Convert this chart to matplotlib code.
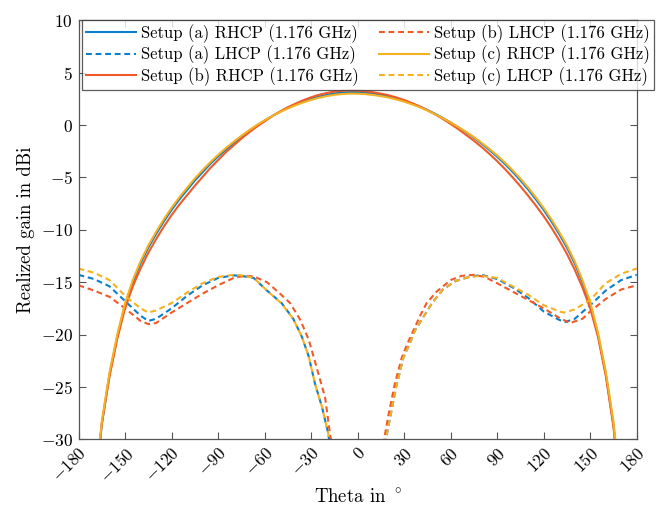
#!/usr/bin/env python3
"""Realized gain cuts (RHCP / LHCP) for three setups at 1.176 GHz."""

import matplotlib

matplotlib.use("Agg")
import matplotlib.pyplot as plt

# RHCP cuts, theta in degrees
RHCP_THETA = [
    -170, -165, -160, -155, -150, -145, -140, -135, -130, -125, -120, -115, -110, -105,
    -100, -95, -90, -85, -80, -75, -70, -65, -60, -55, -50, -45, -40, -35, -30, -25, -20,
    -15, -10, -5, 0, 5, 10, 15, 20, 25, 30, 35, 40, 45, 50, 55, 60, 65, 70, 75, 80, 85,
    90, 95, 100, 105, 110, 115, 120, 125, 130, 135, 140, 145, 150, 155, 160, 165, 170,
]
RHCP_A = [
    -36.0, -28.6, -23.8, -20.2, -17.2, -15.0, -13.2, -11.7, -10.4, -9.2, -8.1, -7.1, -6.2, -5.3,
    -4.5, -3.7, -3.0, -2.35, -1.72, -1.12, -0.57, -0.05, 0.42, 0.86, 1.27, 1.63, 1.96, 2.25, 2.5,
    2.71, 2.88, 3.01, 3.1, 3.14, 3.13, 3.08, 3.0, 2.88, 2.73, 2.54, 2.32, 2.06, 1.76, 1.43, 1.07,
    0.67, 0.24, -0.22, -0.7, -1.22, -1.78, -2.38, -3.02, -3.72, -4.47, -5.28, -6.15, -7.1, -8.1,
    -9.2, -10.4, -11.7, -13.2, -15.0, -17.1, -20.0, -23.7, -28.6, -36.0,
]
RHCP_B = [
    -36.0, -28.5, -24.0, -20.4, -17.5, -15.4, -13.7, -12.2, -10.9, -9.7, -8.6, -7.6, -6.7, -5.8,
    -4.95, -4.1, -3.35, -2.6, -1.95, -1.3, -0.7, -0.15, 0.35, 0.85, 1.3, 1.7, 2.05, 2.37, 2.65,
    2.88, 3.06, 3.19, 3.27, 3.3, 3.28, 3.22, 3.13, 3.0, 2.84, 2.63, 2.39, 2.1, 1.78, 1.42, 1.02,
    0.58, 0.1, -0.4, -0.95, -1.5, -2.1, -2.75, -3.45, -4.2, -5.0, -5.85, -6.75, -7.7, -8.7,
    -9.8, -11.0, -12.3, -13.8, -15.5, -17.5, -20.2, -23.9, -28.8, -36.0,
]
RHCP_C = [
    -35.5, -28.3, -23.6, -20.0, -17.0, -14.8, -13.0, -11.5, -10.2, -9.0, -7.9, -6.9, -6.0, -5.1,
    -4.3, -3.55, -2.85, -2.2, -1.6, -1.03, -0.5, 0.0, 0.45, 0.86, 1.24, 1.58, 1.89, 2.16, 2.4,
    2.6, 2.76, 2.88, 2.96, 3.0, 2.99, 2.95, 2.87, 2.76, 2.62, 2.44, 2.23, 1.98, 1.7, 1.38, 1.03,
    0.65, 0.24, -0.2, -0.66, -1.16, -1.7, -2.28, -2.9, -3.58, -4.32, -5.12, -5.98, -6.92, -7.92,
    -9.0, -10.2, -11.5, -13.0, -14.8, -16.9, -19.8, -23.5, -28.3, -35.5,
]

# LHCP cuts, split in a negative and a positive theta branch
LHCP_L_THETA_A = [-180, -170, -160, -150, -140, -135, -130, -120, -110, -100, -90, -80, -75, -67,
                  -58.5, -49, -41.5, -36, -31.5, -27.5, -23, -19, -18]
LHCP_L_A = [-14.3, -14.7, -15.4, -16.8, -18.2, -18.7, -18.5, -17.5, -16.3, -15.3, -14.6, -14.35,
            -14.4, -14.6, -15.8, -17.0, -18.5, -20.2, -22.1, -24.7, -26.9, -29.4, -30.5]
LHCP_L_THETA_B = [-180, -170, -160, -150, -140, -135, -130, -120, -110, -100, -90, -80, -73, -67,
                  -58.5, -50, -43.5, -37, -31.5, -26.5, -21, -17.5, -16.5]
LHCP_L_B = [-15.3, -15.8, -16.4, -17.5, -18.7, -19.0, -18.9, -17.9, -17.0, -16.1, -15.3, -14.6,
            -14.4, -14.45, -15.0, -16.1, -17.0, -18.6, -20.5, -23.1, -26.0, -29.8, -30.5]
LHCP_L_THETA_C = LHCP_L_THETA_A
LHCP_L_C = [-13.7, -14.1, -14.8, -16.3, -17.5, -17.9, -17.7, -17.0, -16.0, -15.1, -14.5, -14.3,
            -14.35, -14.6, -15.8, -17.05, -18.5, -20.2, -22.1, -24.7, -26.9, -29.4, -30.5]

LHCP_R_THETA_A = [17.5, 21, 25, 29.5, 33.5, 37, 42.5, 48, 55, 63, 72, 80, 90, 100, 110, 120, 130,
                  134, 140, 150, 160, 170, 180]
LHCP_R_A = [-30.5, -27.9, -24.9, -22.2, -20.9, -19.6, -18.3, -17.0, -15.7, -14.9, -14.5, -14.3,
            -14.7, -15.5, -16.5, -17.8, -18.6, -18.8, -18.5, -17.2, -15.8, -14.8, -14.3]
LHCP_R_THETA_B = [16.5, 20, 24, 28.5, 32, 36, 40, 44.5, 51, 60, 67, 75, 82, 90, 100, 110, 120,
                  130, 137, 145, 150, 160, 170, 180]
LHCP_R_B = [-30.5, -27.6, -24.7, -22.2, -20.9, -19.6, -18.3, -17.0, -15.9, -14.8, -14.4, -14.3,
            -14.5, -15.1, -15.9, -16.7, -17.5, -18.4, -18.9, -18.5, -17.8, -16.6, -15.7, -15.3]
LHCP_R_THETA_C = [17.5, 21, 25, 29.5, 33.5, 37, 42.5, 48, 55, 63, 72, 80, 90, 100, 110, 120, 130,
                  133, 140, 150, 160, 170, 180]
LHCP_R_C = [-30.5, -27.9, -24.9, -22.2, -20.9, -19.6, -18.3, -17.0, -15.7, -14.9, -14.5, -14.4,
            -14.6, -15.4, -16.2, -17.2, -17.8, -17.9, -17.6, -16.7, -15.1, -14.2, -13.7]

X_TICKS = list(range(-180, 181, 30))
Y_TICKS = list(range(-30, 11, 5))

COLORS = {"a": "#0a7fcc", "b": "#f05a28", "c": "#f5b120"}
AXIS_GREY = "#555555"


def main() -> None:
    plt.rcParams["font.family"] = "serif"
    plt.rcParams["font.serif"] = ["cmr10"]
    plt.rcParams["mathtext.fontset"] = "cm"
    plt.rcParams["axes.formatter.use_mathtext"] = True

    fig = plt.figure(figsize=(6.56, 5.15), dpi=100)
    ax = fig.add_axes([0.1197, 0.147, 0.8509, 0.8136])

    series = [
        ("a", RHCP_A, LHCP_L_THETA_A, LHCP_L_A, LHCP_R_THETA_A, LHCP_R_A),
        ("b", RHCP_B, LHCP_L_THETA_B, LHCP_L_B, LHCP_R_THETA_B, LHCP_R_B),
        ("c", RHCP_C, LHCP_L_THETA_C, LHCP_L_C, LHCP_R_THETA_C, LHCP_R_C),
    ]
    handles = []
    for key, rhcp, lt, lv, rt, rv in series:
        color = COLORS[key]
        h1, = ax.plot(RHCP_THETA, rhcp, color=color, linewidth=1.5,
                      label=f"Setup ({key}) RHCP (1.176 GHz)")
        h2, = ax.plot(lt, lv, color=color, linewidth=1.5, dashes=(2.8, 1.8),
                      label=f"Setup ({key}) LHCP (1.176 GHz)")
        ax.plot(rt, rv, color=color, linewidth=1.5, dashes=(2.8, 1.8))
        handles += [h1, h2]

    ax.set_xlim(-180, 180)
    ax.set_ylim(-30, 10)
    ax.set_xticks(X_TICKS)
    ax.set_xticklabels([f"${v}$" for v in X_TICKS], rotation=45, ha="right",
                       rotation_mode="anchor", fontsize=12.5)
    ax.set_yticks(Y_TICKS)
    ax.set_yticklabels([f"${v}$" for v in Y_TICKS], fontsize=12.5)
    ax.tick_params(direction="in", length=5, width=0.8, color=AXIS_GREY,
                   top=True, right=True, pad=4)
    for spine in ax.spines.values():
        spine.set_color(AXIS_GREY)
        spine.set_linewidth(0.9)

    ax.set_xlabel(r"Theta in $^\circ$", fontsize=13.5, labelpad=2)
    ax.set_ylabel("Realized gain in dBi", fontsize=13.5, labelpad=4)

    leg = fig.legend(handles=handles, loc="upper left", ncol=2,
                     bbox_to_anchor=(82 / 656, 1 - 20 / 515), fontsize=12.0,
                     frameon=True, fancybox=False, edgecolor="#333333",
                     handlelength=3.0, handletextpad=0.3, columnspacing=1.2,
                     labelspacing=0.16, borderpad=0.25, borderaxespad=0.0)
    leg.get_frame().set_linewidth(0.9)

    fig.savefig("out.png", dpi=100)
    plt.close(fig)


if __name__ == "__main__":
    main()
